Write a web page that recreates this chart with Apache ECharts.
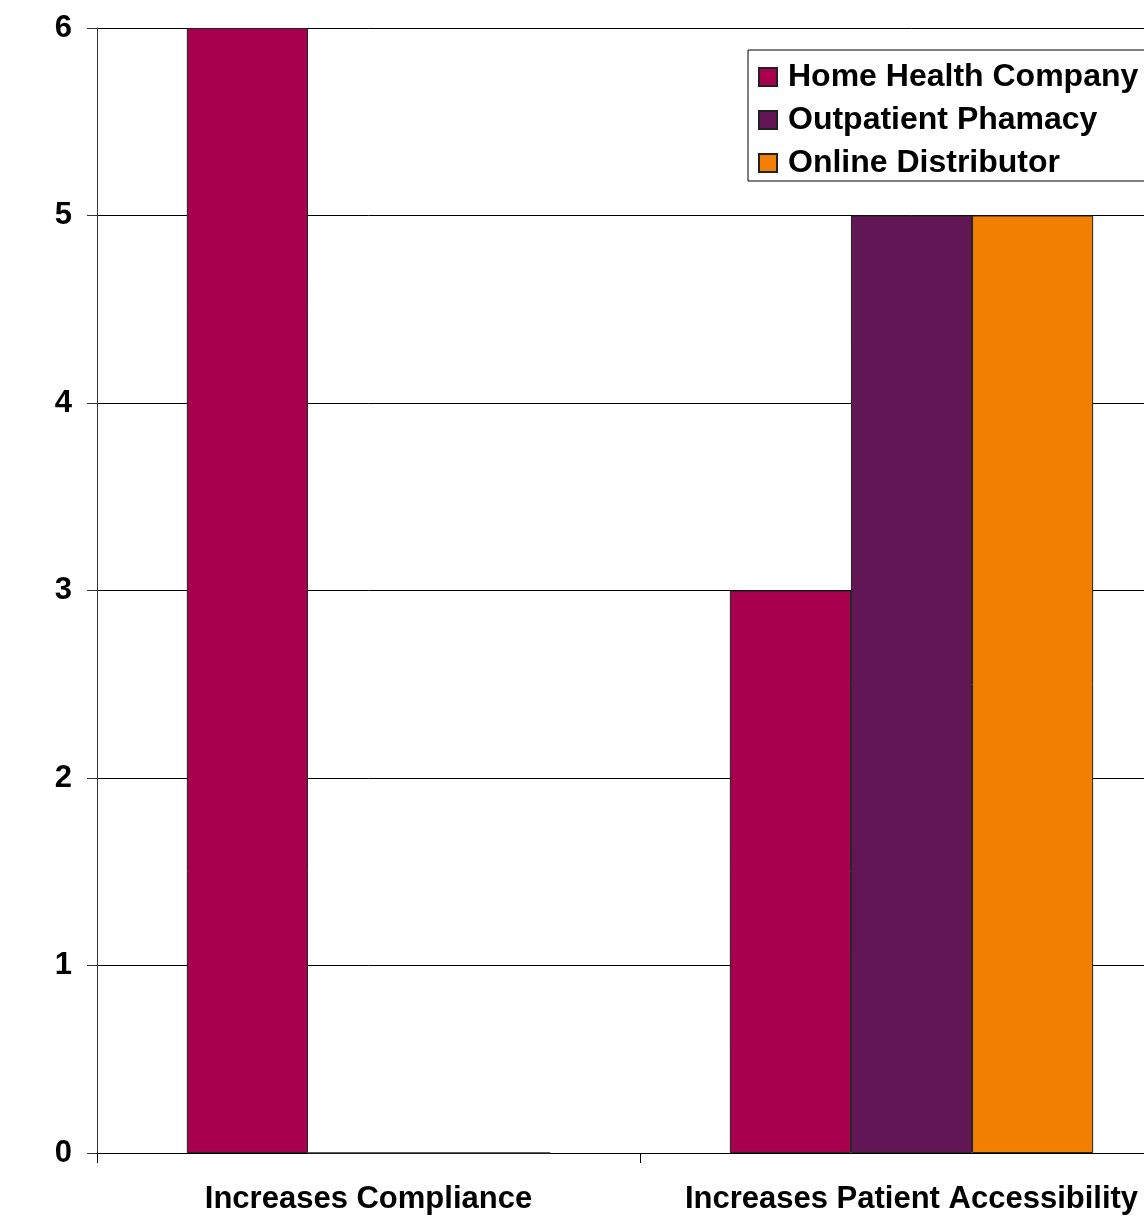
<!DOCTYPE html>
<html><head><meta charset="utf-8">
<script src="https://cdn.jsdelivr.net/npm/echarts@6/dist/echarts.min.js"></script>
<style>html,body{margin:0;padding:0;overflow:hidden;background:#fff;width:1144px;height:1217px}#c{width:1250px;height:1217px}</style>
</head><body><div id="c"></div>
<script>
const categories = ['Increases Compliance', 'Increases Patient Accessibility'];
const seriesNames = ['Home Health Company', 'Outpatient Phamacy', 'Online Distributor'];
const homeHealth = [6, 3];
const outpatient = [0, 5];
const online = [0, 5];
const yTicks = [0, 1, 2, 3, 4, 5, 6];
const colors = ['#A8004C', '#621656', '#F27F00'];

const chart = echarts.init(document.getElementById('c'));
const font = 'Liberation Sans, Arial, sans-serif';
const vals = [homeHealth, outpatient, online];
chart.setOption({
  animation: false,
  backgroundColor: '#fff',
  grid: { left: 97, top: 28, width: 1086, height: 1125 },
  legend: {
    orient: 'vertical', left: 748, top: 50,
    padding: [10, 60, 1, 10],
    borderColor: '#000', borderWidth: 1,
    itemWidth: 18, itemHeight: 18, itemGap: 9,
    icon: 'rect',
    textStyle: { fontFamily: font, fontWeight: 'bold', fontSize: 32, color: '#000', lineHeight: 34, padding: [0, 0, 0, 6] },
    data: seriesNames
  },
  xAxis: {
    type: 'category', data: categories,
    axisLine: { lineStyle: { color: '#000', width: 1 } },
    axisTick: { show: true, interval: 0, length: 10, lineStyle: { color: '#000' } },
    axisLabel: { interval: 0, hideOverlap: false, fontFamily: font, fontWeight: 'bold', fontSize: 31, color: '#000', margin: 31 }
  },
  yAxis: {
    type: 'value', min: yTicks[0], max: yTicks[yTicks.length - 1], interval: 1,
    axisLine: { show: true, lineStyle: { color: '#333', width: 1 } },
    axisTick: { show: true, length: 10, lineStyle: { color: '#333' } },
    axisLabel: { fontFamily: font, fontWeight: 'bold', fontSize: 31, color: '#000', margin: 25, padding: [7, 0, 0, 0] },
    splitLine: { show: true, lineStyle: { color: '#000', width: 1 } }
  },
  series: seriesNames.map((n, i) => ({
    name: n, type: 'bar', data: vals[i],
    barGap: 0, barCategoryGap: '33.1%',
    itemStyle: { color: colors[i], borderColor: '#222', borderWidth: 1 }
  }))
});
</script></body></html>
